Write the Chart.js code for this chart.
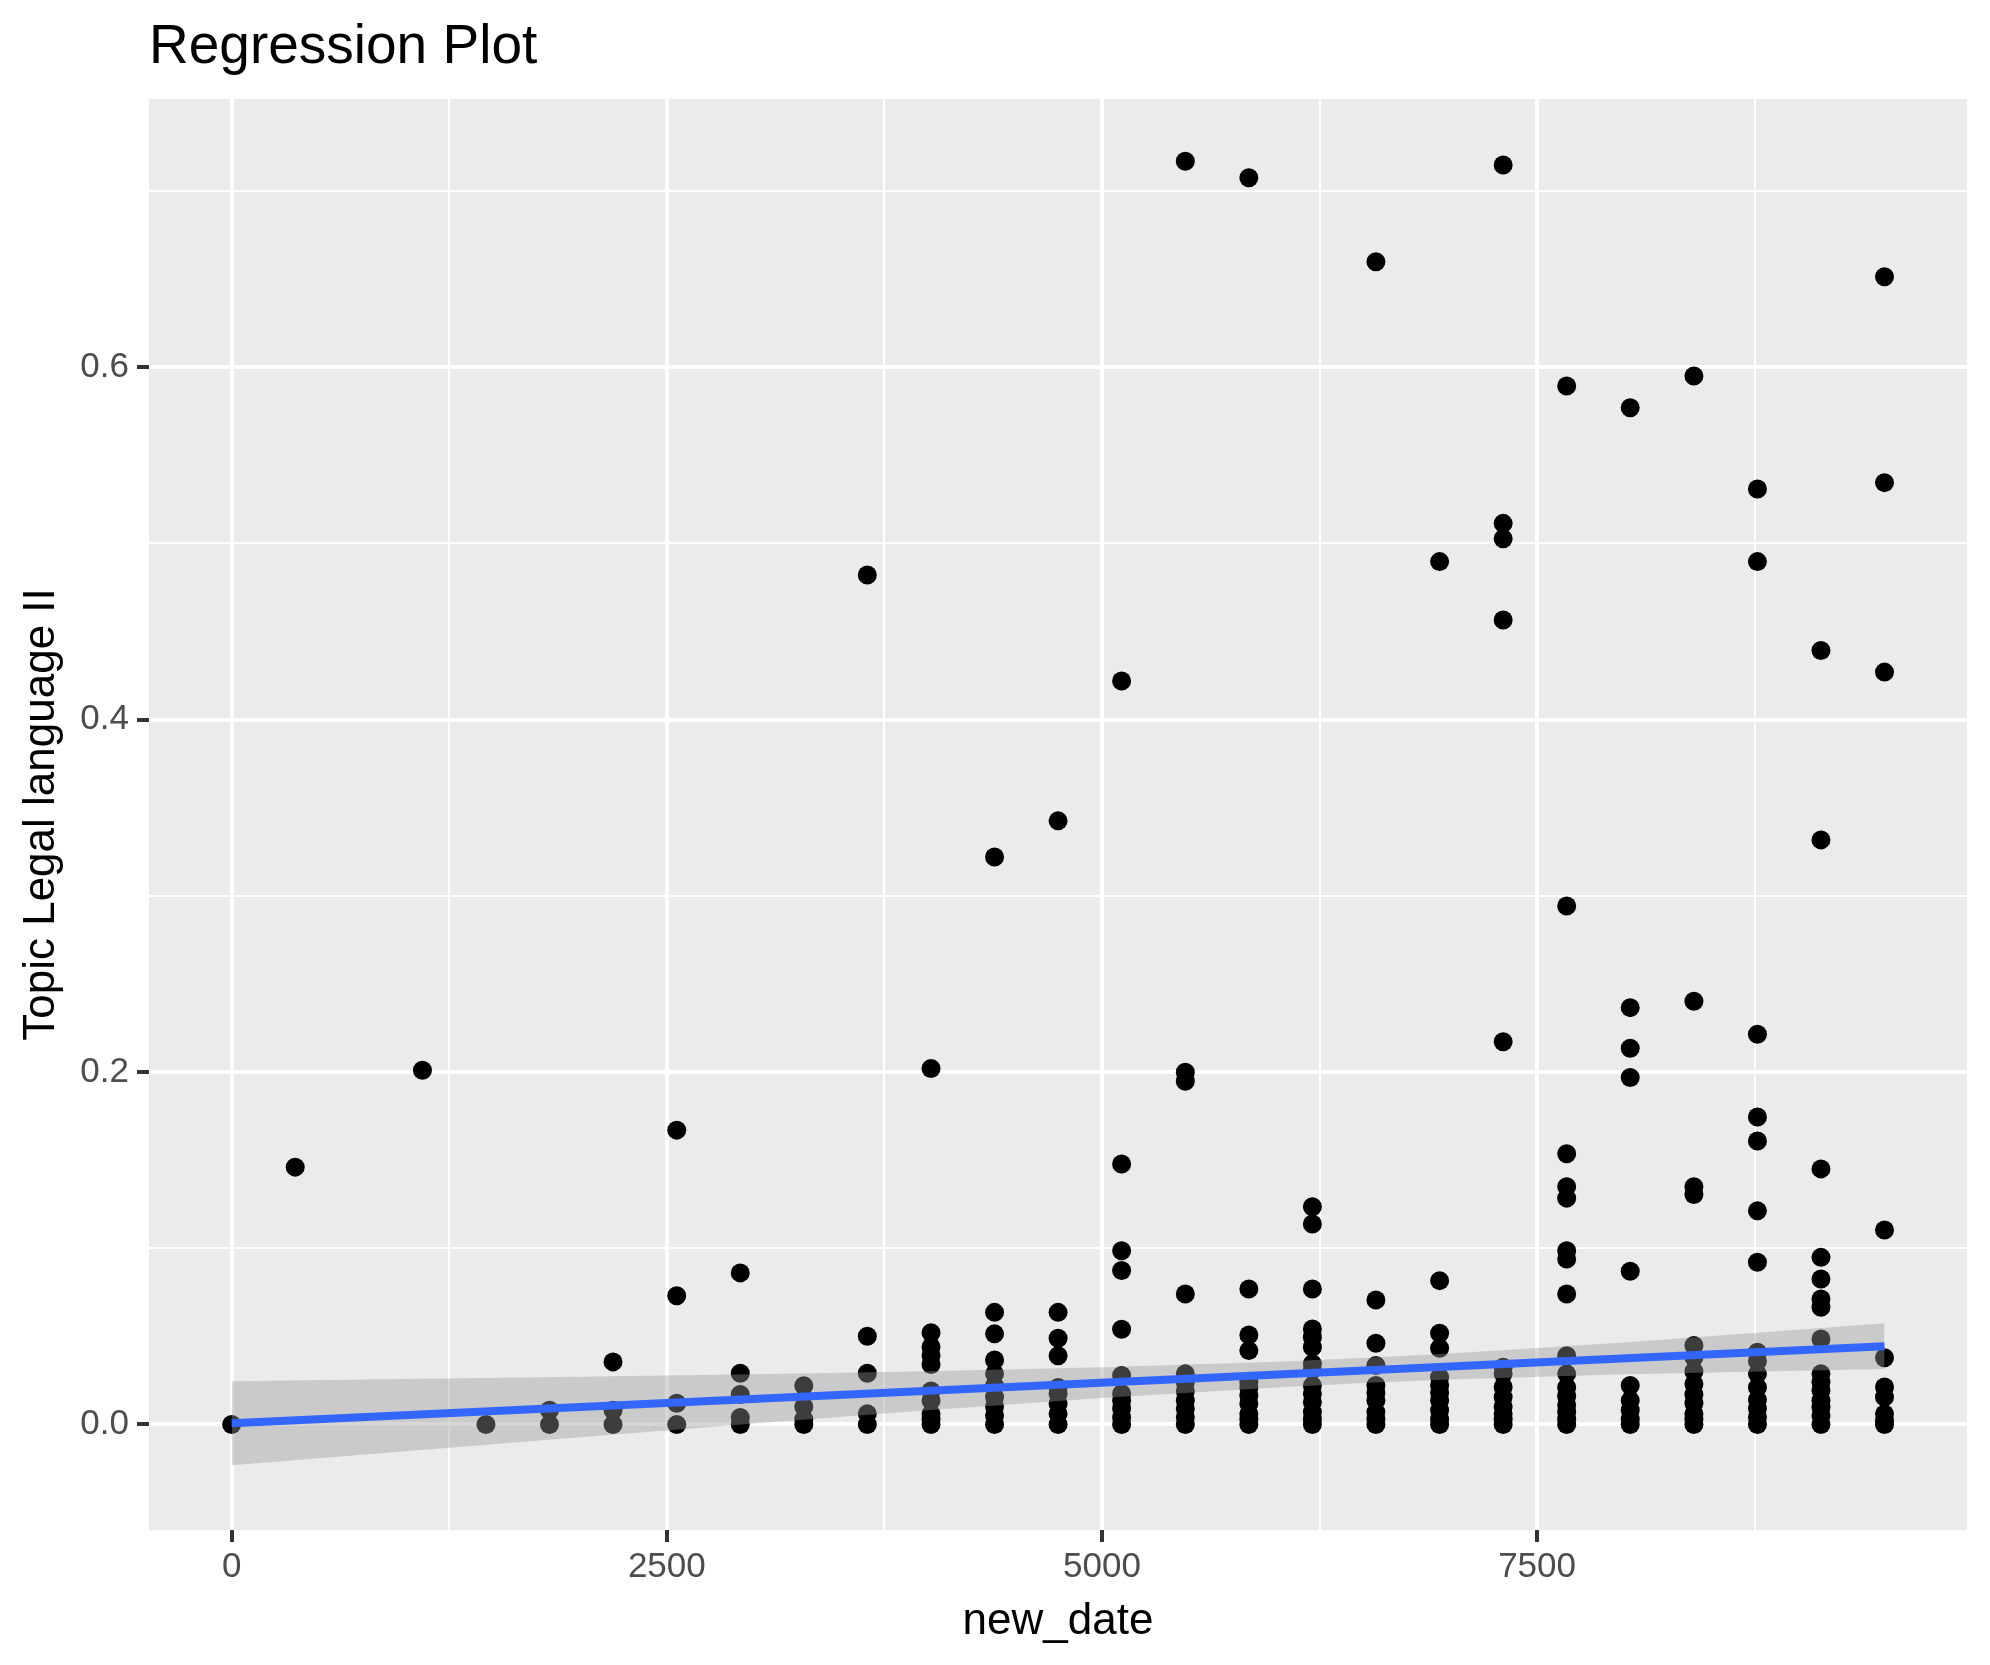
<!DOCTYPE html>
<html>
<head>
<meta charset="utf-8">
<script src="https://cdn.jsdelivr.net/npm/chart.js@4.4.1/dist/chart.umd.min.js"></script>
<style>
  html, body { margin: 0; padding: 0; background: #ffffff; }
  canvas { display: block; }
</style>
</head>
<body>
<canvas id="regChart" width="1990" height="1665" style="width:1990px;height:1665px"></canvas>
<script>
// x position (new_date) of each column of points
const columnDates = [0, 365, 1096, 1461, 1826, 2191, 2557, 2922, 3287, 3652, 4018, 4383, 4748,
    5113, 5479, 5844, 6209, 6574, 6940, 7305, 7670, 8035, 8401, 8766, 9131, 9496];

// topic share values read per column (same order as columnDates)
const columnValues = [
    [0],
    [0.146],
    [0.201],
    [0],
    [0, 0.008],
    [0, 0.008, 0.0355],
    [0, 0.012, 0.073, 0.167],
    [0, 0.004, 0.017, 0.029, 0.086],
    [0, 0.003, 0.010, 0.022],
    [0, 0.006, 0.029, 0.050, 0.482],
    [0, 0.003, 0.006, 0.0135, 0.019, 0.034, 0.039, 0.044, 0.052, 0.202],
    [0, 0.005, 0.010, 0.0155, 0.022, 0.0287, 0.0366, 0.0514, 0.0636, 0.322],
    [0, 0.006, 0.0117, 0.0174, 0.021, 0.039, 0.0489, 0.0636, 0.3425],
    [0, 0.004, 0.009, 0.0136, 0.0174, 0.0278, 0.054, 0.0873, 0.0986, 0.1478, 0.4219],
    [0, 0.0042, 0.0089, 0.0136, 0.019, 0.024, 0.0287, 0.074, 0.1947, 0.1998, 0.7168],
    [0, 0.003, 0.006, 0.0117, 0.0164, 0.021, 0.024, 0.0419, 0.0508, 0.0769, 0.7074],
    [0, 0.003, 0.007, 0.0127, 0.0174, 0.022, 0.031, 0.0344, 0.0438, 0.0495, 0.0542, 0.0769, 0.1137, 0.1235],
    [0, 0.003, 0.007, 0.0136, 0.018, 0.0221, 0.0334, 0.0461, 0.0706, 0.6598],
    [0, 0.003, 0.008, 0.0136, 0.018, 0.0221, 0.0268, 0.0432, 0.0517, 0.0816, 0.4896],
    [0, 0.003, 0.006, 0.010, 0.0155, 0.0212, 0.0287, 0.0325, 0.2171, 0.4565, 0.5026, 0.5113, 0.7147],
    [0, 0.003, 0.007, 0.011, 0.016, 0.021, 0.0287, 0.039, 0.074, 0.0939, 0.0986, 0.1284, 0.1349, 0.1536, 0.2942, 0.5892],
    [0, 0.003, 0.008, 0.0136, 0.0221, 0.0869, 0.1969, 0.2135, 0.2365, 0.5769],
    [0, 0.003, 0.006, 0.012, 0.017, 0.023, 0.030, 0.038, 0.0448, 0.1305, 0.1349, 0.2401, 0.5949],
    [0, 0.004, 0.009, 0.014, 0.021, 0.0287, 0.036, 0.041, 0.092, 0.1212, 0.1608, 0.1745, 0.2214, 0.4896, 0.5308],
    [0, 0.005, 0.0098, 0.0136, 0.0193, 0.024, 0.0287, 0.0485, 0.0665, 0.0712, 0.0825, 0.0948, 0.145, 0.3317, 0.4392],
    [0, 0.0023, 0.006, 0.0155, 0.0212, 0.0378, 0.1103, 0.4269, 0.5344, 0.6512]
];

// fitted line (lm) end points
const fitX = [0, 9496];
const fitY = [0.0007, 0.0444];

// confidence band read at several positions
const bandX    = [0, 1000, 2000, 3000, 4000, 5000, 6000, 6500, 7000, 8000, 9000, 9496];
const bandLow  = [-0.0231, -0.0152, -0.0073, 0.0005, 0.0080, 0.0150, 0.0210, 0.0235, 0.0255, 0.0285, 0.0305, 0.0314];
const bandHigh = [0.0245, 0.0258, 0.0271, 0.0285, 0.0302, 0.0324, 0.0356, 0.0377, 0.0403, 0.0465, 0.0537, 0.0574];

// axis ticks
const xMajor = [0, 2500, 5000, 7500];
const xMinor = [1250, 3750, 6250, 8750];
const yMajor = [0, 0.2, 0.4, 0.6];
const yMinor = [0.1, 0.3, 0.5, 0.7];

const FONT = '"Liberation Sans", Arial, Helvetica, sans-serif';

function isMajor(list, v) {
    return list.some(m => Math.abs(m - v) < 1e-9);
}

const points = [];
columnDates.forEach((d, i) => {
    columnValues[i].forEach(v => points.push({ x: d, y: v }));
});

// panel background + plot title
const ggPanel = {
    id: 'ggPanel',
    beforeDraw(chart) {
        const { ctx, chartArea } = chart;
        ctx.save();
        ctx.fillStyle = '#EBEBEB';
        ctx.fillRect(chartArea.left, chartArea.top, chartArea.right - chartArea.left, chartArea.bottom - chartArea.top);
        ctx.restore();
    },
    afterDraw(chart) {
        const ctx = chart.ctx;
        ctx.save();
        ctx.font = '55px ' + FONT;
        ctx.fillStyle = '#000000';
        ctx.textAlign = 'left';
        ctx.textBaseline = 'alphabetic';
        ctx.fillText('Regression Plot', chart.chartArea.left, 63);
        ctx.restore();
    }
};

new Chart(document.getElementById('regChart').getContext('2d'), {
    type: 'scatter',
    data: {
        datasets: [
            {
                type: 'line',
                label: 'fit',
                data: fitX.map((x, i) => ({ x, y: fitY[i] })),
                borderColor: '#3366FF',
                borderWidth: 8,
                pointRadius: 0,
                fill: false,
                order: 1
            },
            {
                type: 'line',
                label: 'band high',
                data: bandX.map((x, i) => ({ x, y: bandHigh[i] })),
                borderColor: 'rgba(0,0,0,0)',
                borderWidth: 0,
                pointRadius: 0,
                backgroundColor: 'rgba(153,153,153,0.4)',
                fill: '+1',
                order: 2
            },
            {
                type: 'line',
                label: 'band low',
                data: bandX.map((x, i) => ({ x, y: bandLow[i] })),
                borderColor: 'rgba(0,0,0,0)',
                borderWidth: 0,
                pointRadius: 0,
                fill: false,
                order: 2
            },
            {
                label: 'points',
                data: points,
                backgroundColor: '#000000',
                borderWidth: 0,
                pointRadius: 9.5,
                order: 3
            }
        ]
    },
    options: {
        responsive: false,
        devicePixelRatio: 1,
        animation: false,
        layout: { padding: { top: 99, right: 23, left: 0, bottom: 0 } },
        plugins: {
            legend: { display: false },
            tooltip: { enabled: false },
            title: { display: false }
        },
        scales: {
            x: {
                type: 'linear',
                min: -475,
                max: 9970,
                afterBuildTicks: s => { s.ticks = xMajor.concat(xMinor).sort((a, b) => a - b).map(v => ({ value: v })); },
                afterFit: s => { s.height = 135; },
                border: { display: false },
                grid: {
                    color: '#FFFFFF',
                    lineWidth: c => isMajor(xMajor, c.tick.value) ? 4 : 2,
                    tickColor: c => isMajor(xMajor, c.tick.value) ? '#333333' : 'rgba(0,0,0,0)',
                    tickWidth: 4,
                    tickLength: 12
                },
                ticks: {
                    autoSkip: false,
                    maxRotation: 0,
                    padding: 4,
                    color: '#4D4D4D',
                    font: { family: FONT, size: 35 },
                    callback: v => isMajor(xMajor, v) ? String(v) : ''
                },
                title: {
                    display: true,
                    text: 'new_date',
                    color: '#000000',
                    font: { family: FONT, size: 44 },
                    padding: { top: 0, bottom: 17 }
                }
            },
            y: {
                type: 'linear',
                min: -0.0599,
                max: 0.7521,
                afterBuildTicks: s => { s.ticks = yMajor.concat(yMinor).sort((a, b) => a - b).map(v => ({ value: v })); },
                afterFit: s => { s.width = 149; },
                border: { display: false },
                grid: {
                    color: '#FFFFFF',
                    lineWidth: c => isMajor(yMajor, c.tick.value) ? 4 : 2,
                    tickColor: c => isMajor(yMajor, c.tick.value) ? '#333333' : 'rgba(0,0,0,0)',
                    tickWidth: 4,
                    tickLength: 12
                },
                ticks: {
                    autoSkip: false,
                    padding: 8,
                    color: '#4D4D4D',
                    font: { family: FONT, size: 35 },
                    callback: v => isMajor(yMajor, v) ? v.toFixed(1) : ''
                },
                title: {
                    display: true,
                    text: 'Topic Legal language II',
                    color: '#000000',
                    font: { family: FONT, size: 44 },
                    padding: { top: 15, bottom: 0 }
                }
            }
        }
    },
    plugins: [ggPanel]
});
</script>
</body>
</html>
